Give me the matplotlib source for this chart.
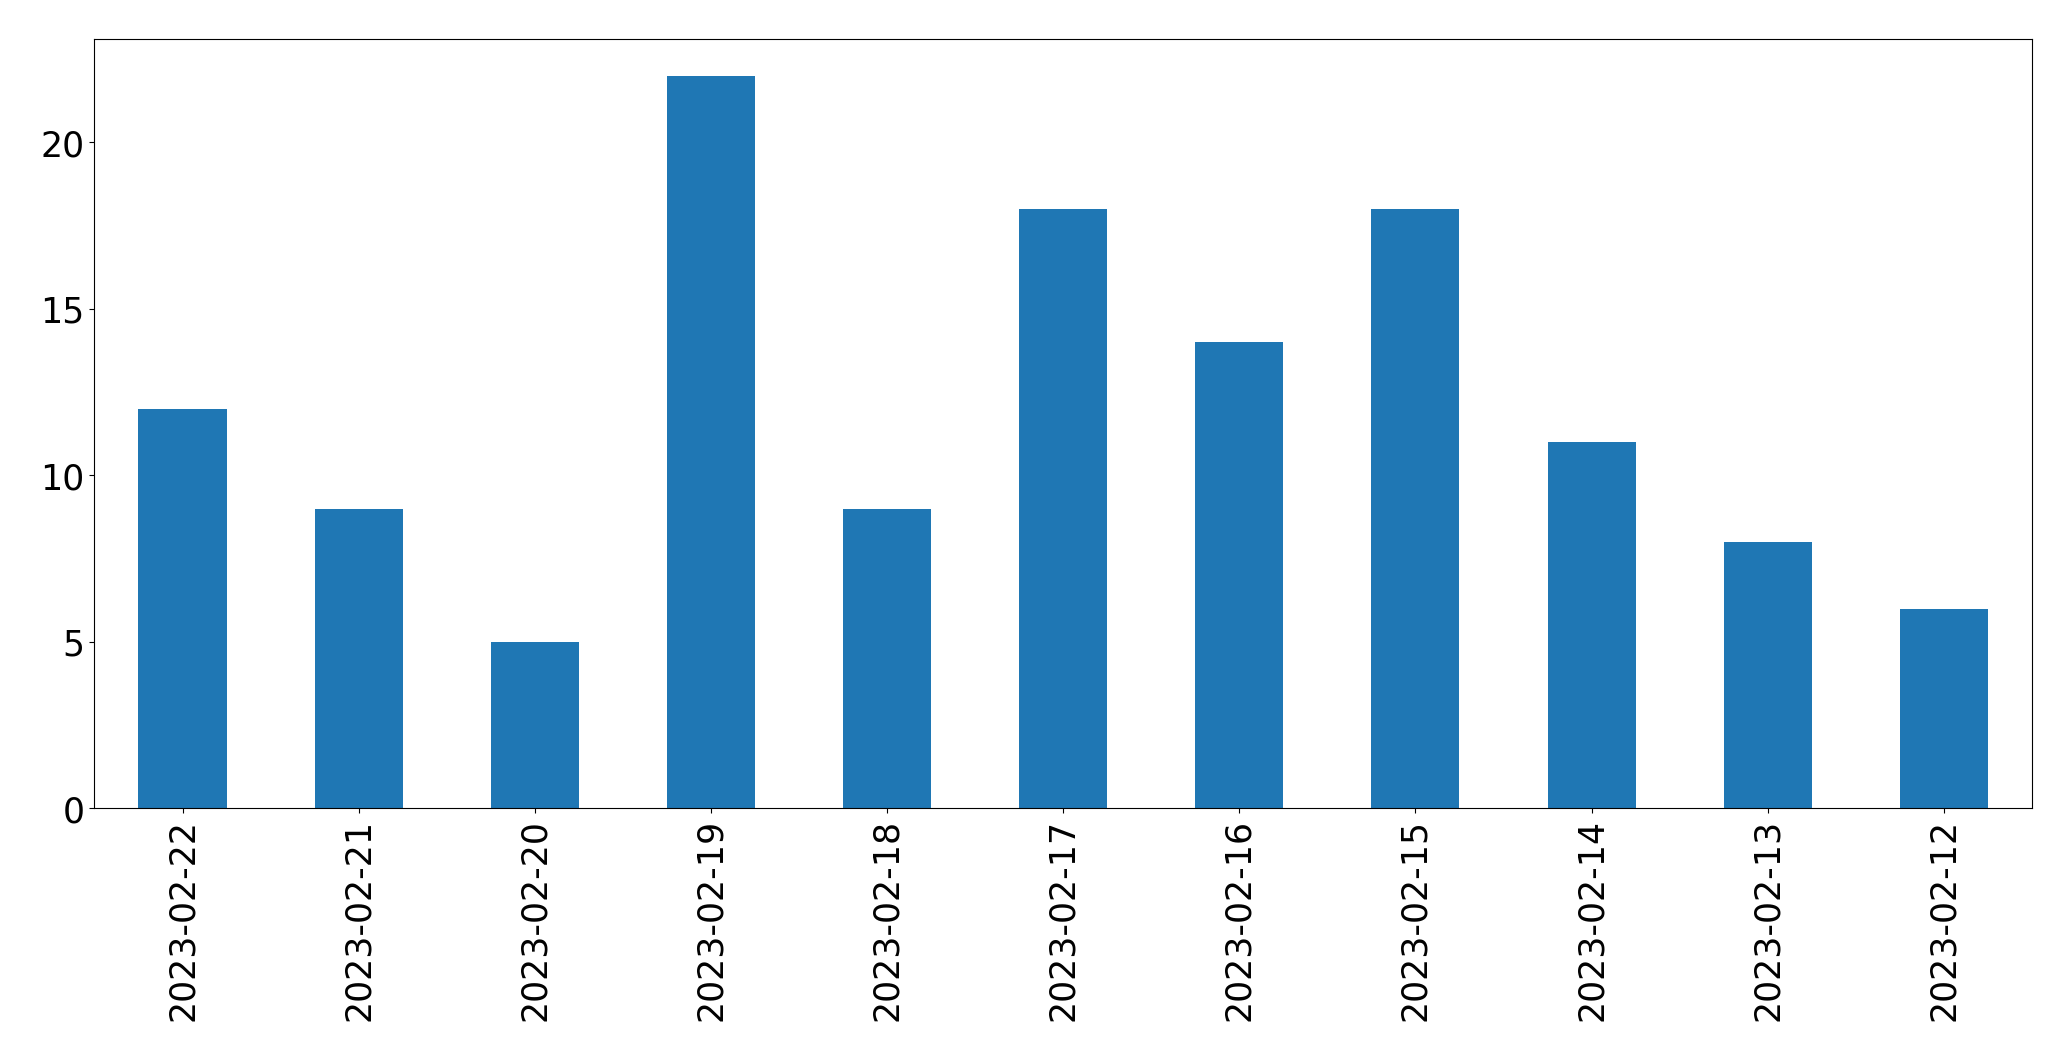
import matplotlib
matplotlib.use("Agg")
import matplotlib.pyplot as plt
import numpy as np

dates = ["2023-02-22", "2023-02-21", "2023-02-20", "2023-02-19", "2023-02-18",
         "2023-02-17", "2023-02-16", "2023-02-15", "2023-02-14", "2023-02-13",
         "2023-02-12"]
counts = [12, 9, 5, 22, 9, 18, 14, 18, 11, 8, 6]

fig = plt.figure(figsize=(20.71, 10.605), dpi=100)
ax = fig.add_axes([0.0456, 0.2372, 0.9355, 0.7255])

x = np.arange(len(dates))
ax.bar(x, counts, width=0.5, color="#1f77b4")
ax.set_xlim(-0.5, len(dates) - 0.5)
ax.set_xticks(x)
ax.set_xticklabels(dates, rotation=90)
ax.tick_params(labelsize=25)

fig.savefig("out.png", dpi=100)
